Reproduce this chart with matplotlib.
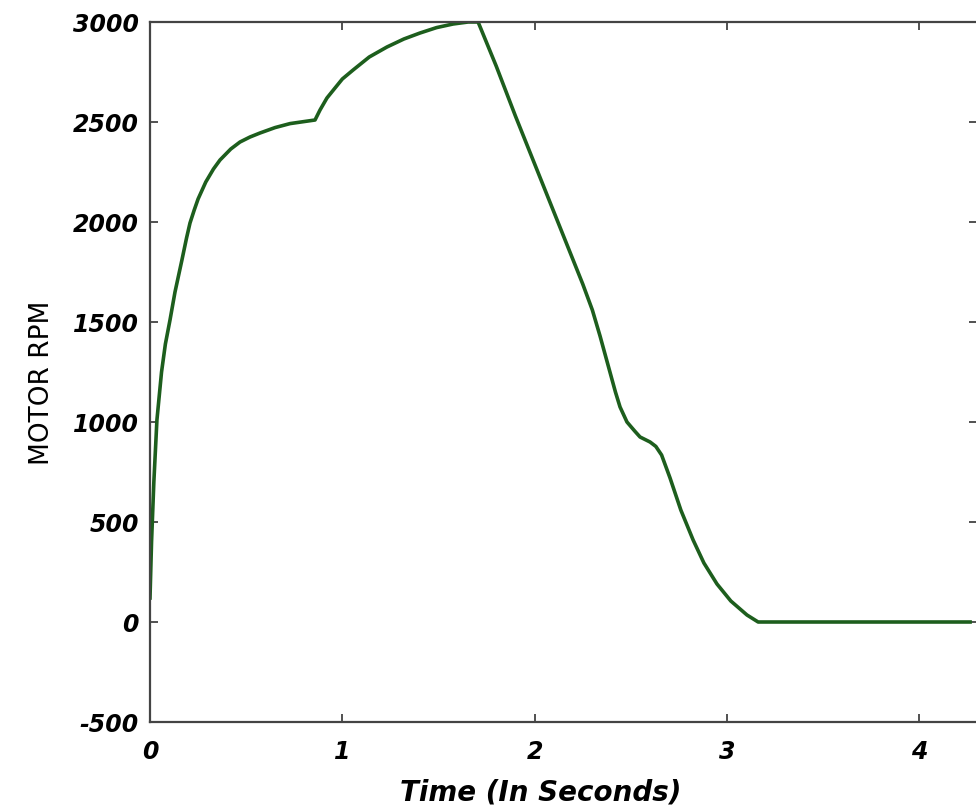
import matplotlib
matplotlib.use("Agg")
import matplotlib.pyplot as plt

# Motor speed profile
time_s = [0.0, 0.008, 0.02, 0.036, 0.06, 0.08, 0.104, 0.13, 0.166, 0.19,
          0.208, 0.23, 0.25, 0.29, 0.33, 0.364, 0.42, 0.468, 0.52, 0.572,
          0.65, 0.728, 0.80, 0.858, 0.884, 0.92, 0.962, 1.0, 1.056, 1.14,
          1.232, 1.32, 1.404, 1.49, 1.576, 1.654, 1.706, 1.8, 1.9, 2.0,
          2.1, 2.2, 2.25, 2.3, 2.34, 2.38, 2.42, 2.444, 2.48, 2.52,
          2.548, 2.6, 2.63, 2.66, 2.704, 2.76, 2.824, 2.88, 2.948, 3.02,
          3.104, 3.162, 4.264]
rpm = [120, 400, 700, 1010, 1250, 1390, 1510, 1650, 1810, 1920,
       1995, 2060, 2115, 2200, 2265, 2310, 2365, 2400, 2425, 2445,
       2472, 2492, 2502, 2510, 2560, 2620, 2670, 2715, 2760, 2825,
       2875, 2915, 2945, 2972, 2990, 3000, 3000, 2780, 2530, 2290,
       2050, 1810, 1690, 1560, 1430, 1290, 1150, 1075, 1000, 955,
       925, 900, 878, 835, 720, 560, 410, 295, 190, 105,
       35, 0, 0]

x_ticks = [0, 1, 2, 3, 4]
y_ticks = [-500, 0, 500, 1000, 1500, 2000, 2500, 3000]

fig = plt.figure(figsize=(9.76, 8.11), dpi=100)
ax = fig.add_axes([150 / 976, 89 / 811, 827 / 976, 700 / 811])

ax.plot(time_s, rpm, color='#1d5e1d', linewidth=2.6, solid_joinstyle='round')

ax.set_xlim(0, 4.3)
ax.set_ylim(-500, 3000)
ax.set_xticks(x_ticks)
ax.set_yticks(y_ticks)

tick_font = {'family': 'DejaVu Sans', 'style': 'oblique', 'weight': 'bold', 'size': 17}
ax.set_xticklabels([str(v) for v in x_ticks], fontdict=tick_font)
ax.set_yticklabels([str(v) for v in y_ticks], fontdict=tick_font)
ax.tick_params(direction='in', length=6, width=1.2, top=True, right=True,
               colors='#333333', labelcolor='black', pad=8)
ax.tick_params(axis='x', pad=13)
for s in ax.spines.values():
    s.set_linewidth(1.6)
    s.set_color('#444444')

ax.set_xlabel('Time (In Seconds)', family='DejaVu Sans', style='oblique',
              weight='bold', size=20)
ax.xaxis.set_label_coords(0.473, -0.081)
ax.set_ylabel('MOTOR RPM', family='DejaVu Sans', size=19)
ax.yaxis.set_label_coords(-0.115, 0.485)

fig.savefig('out.png', dpi=100)
